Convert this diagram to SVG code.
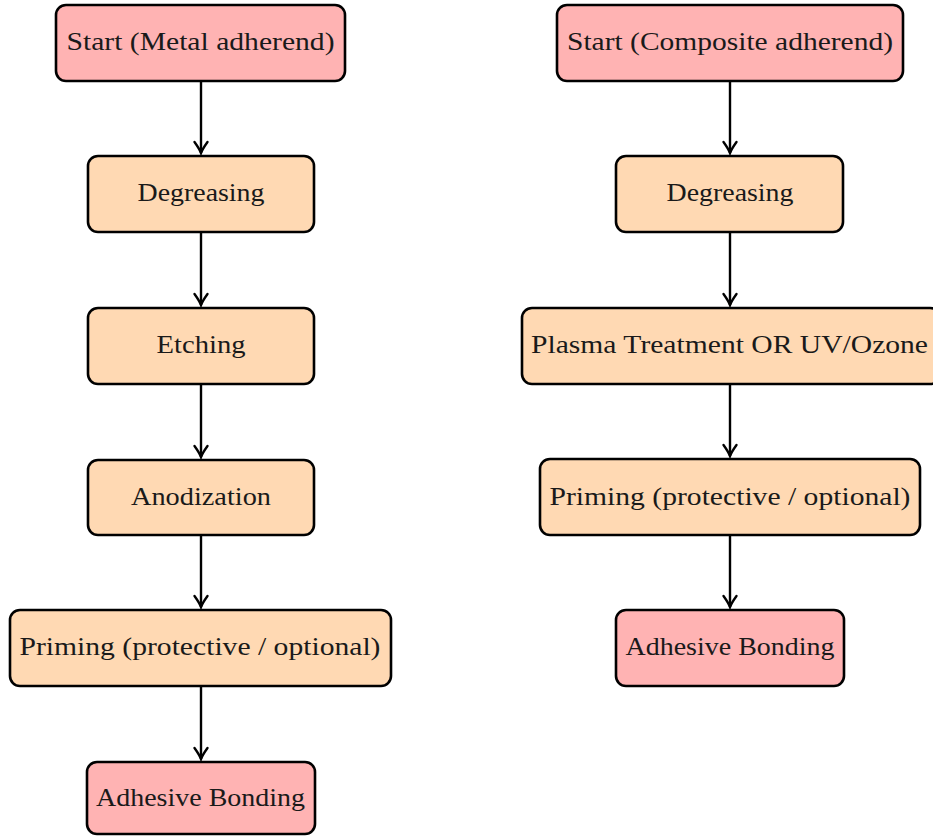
<svg xmlns="http://www.w3.org/2000/svg" width="933" height="836" viewBox="0 0 933 836">
<defs>
<style>
.box{stroke:#000;stroke-width:2.6;}
.term{fill:#FFB3B3;}
.step{fill:#FFD9B3;}
text{font-family:"Liberation Serif","DejaVu Serif",serif;font-size:25px;fill:#1a1a1a;text-anchor:middle;}
.conn line{stroke:#000;stroke-width:2.4;fill:none;marker-end:url(#arr);}
</style>
<marker id="arr" markerWidth="20" markerHeight="20" refX="0" refY="0" markerUnits="userSpaceOnUse" orient="auto" overflow="visible">
<path d="M-11,-6.5 Q-4,-1.5 0,0 Q-4,1.5 -11,6.5" fill="none" stroke="#000" stroke-width="2.4" stroke-linecap="round" stroke-linejoin="miter"/>
</marker>
</defs>
<rect width="933" height="836" fill="#fff"/>
<g class="conn">
<line x1="201" y1="81" x2="201" y2="153"/>
<line x1="201" y1="232" x2="201" y2="305"/>
<line x1="201" y1="384" x2="201" y2="457"/>
<line x1="201" y1="535" x2="201" y2="607"/>
<line x1="201" y1="686" x2="201" y2="759"/>
<line x1="730" y1="81" x2="730" y2="153"/>
<line x1="730" y1="232" x2="730" y2="305"/>
<line x1="730" y1="384" x2="730" y2="456"/>
<line x1="730" y1="535" x2="730" y2="607"/>
</g>
<g id="m1"><rect class="box term" x="56" y="5" width="289" height="76" rx="10"/><text x="200.5" y="50" textLength="268" lengthAdjust="spacingAndGlyphs">Start (Metal adherend)</text></g>
<g id="m2"><rect class="box step" x="88" y="156" width="226" height="76" rx="10"/><text x="201" y="201" textLength="127" lengthAdjust="spacingAndGlyphs">Degreasing</text></g>
<g id="m3"><rect class="box step" x="88" y="308" width="226" height="76" rx="10"/><text x="201" y="353" textLength="89" lengthAdjust="spacingAndGlyphs">Etching</text></g>
<g id="m4"><rect class="box step" x="88" y="460" width="226" height="75" rx="10"/><text x="201" y="505" textLength="140" lengthAdjust="spacingAndGlyphs">Anodization</text></g>
<g id="m5"><rect class="box step" x="10" y="610" width="381" height="76" rx="10"/><text x="200" y="655" textLength="361" lengthAdjust="spacingAndGlyphs">Priming (protective / optional)</text></g>
<g id="m6"><rect class="box term" x="87" y="762" width="228" height="72" rx="10"/><text x="200.5" y="806" textLength="209" lengthAdjust="spacingAndGlyphs">Adhesive Bonding</text></g>
<g id="c1"><rect class="box term" x="557" y="5" width="346" height="76" rx="10"/><text x="730" y="50" textLength="326" lengthAdjust="spacingAndGlyphs">Start (Composite adherend)</text></g>
<g id="c2"><rect class="box step" x="616" y="156" width="227" height="76" rx="10"/><text x="730" y="201" textLength="127" lengthAdjust="spacingAndGlyphs">Degreasing</text></g>
<g id="c3"><rect class="box step" x="522" y="308" width="418" height="76" rx="10"/><text x="729.5" y="353" textLength="397" lengthAdjust="spacingAndGlyphs">Plasma Treatment OR UV/Ozone</text></g>
<g id="c4"><rect class="box step" x="540" y="459" width="380" height="76" rx="10"/><text x="730" y="505" textLength="361" lengthAdjust="spacingAndGlyphs">Priming (protective / optional)</text></g>
<g id="c5"><rect class="box term" x="616" y="610" width="228" height="76" rx="10"/><text x="730" y="655" textLength="209" lengthAdjust="spacingAndGlyphs">Adhesive Bonding</text></g>
</svg>
